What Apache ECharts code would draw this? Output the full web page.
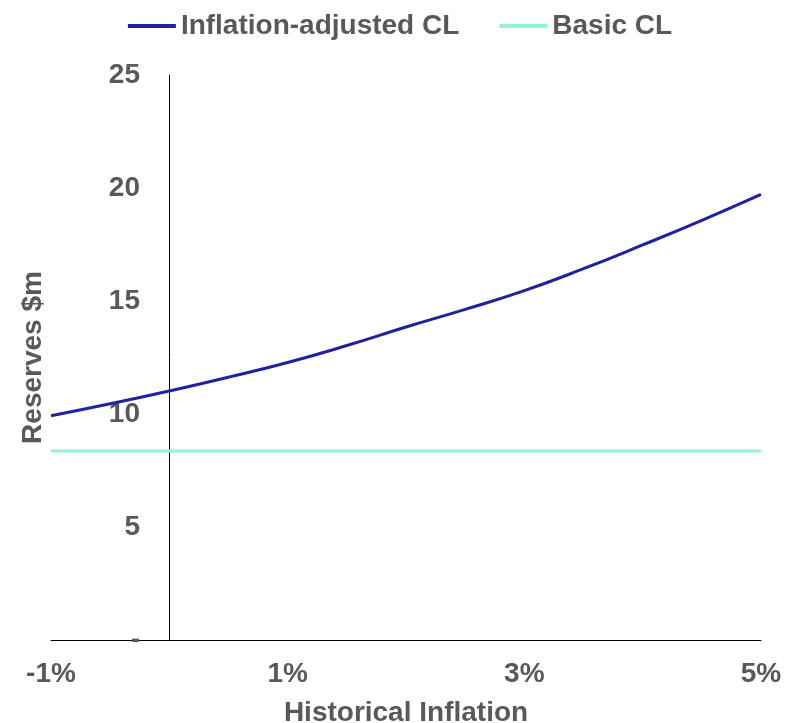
<!DOCTYPE html>
<html>
<head>
<meta charset="utf-8">
<script src="https://cdn.jsdelivr.net/npm/echarts@6/dist/echarts.min.js"></script>
<style>
html,body{margin:0;padding:0;background:#fff;}
#chart{width:800px;height:723px;}
</style>
</head>
<body>
<div id="chart"></div>
<script>
// Data
var inflation = [-1, -0.5, 0, 0.5, 1, 1.5, 2, 2.5, 3, 3.5, 4, 4.5, 5];
var inflationAdjustedCL = [9.92, 10.45, 11.02, 11.63, 12.28, 13.03, 13.85, 14.63, 15.46, 16.43, 17.48, 18.57, 19.72];
var basicCL = [8.36, 8.36, 8.36, 8.36, 8.36, 8.36, 8.36, 8.36, 8.36, 8.36, 8.36, 8.36, 8.36];
var xTickLabels = ['-1%', '1%', '3%', '5%'];
var seriesNames = ['Inflation-adjusted CL', 'Basic CL'];

function pairs(xs, ys) {
  return xs.map(function (x, i) { return [x, ys[i]]; });
}

var FONT = "'Liberation Sans', Arial, sans-serif";
var GREY = '#595959';
var FS = 28;

var chart = echarts.init(document.getElementById('chart'));
chart.setOption({
  animation: false,
  textStyle: { fontFamily: FONT },
  legend: {
    top: 7,
    left: 'center',
    itemWidth: 48,
    itemHeight: 4,
    itemGap: 40,
    icon: 'rect',
    textStyle: { fontFamily: FONT, fontSize: FS, fontWeight: 'bold', color: GREY },
    data: seriesNames
  },
  grid: { left: 51, right: 39, top: 75, bottom: 83, containLabel: false, outerBoundsMode: 'none' },
  xAxis: {
    type: 'value',
    min: -1,
    max: 5,
    interval: 1,
    name: 'Historical Inflation',
    nameLocation: 'middle',
    nameGap: 59,
    nameTextStyle: { fontFamily: FONT, fontSize: FS, fontWeight: 'bold', color: GREY },
    axisLine: { show: true, lineStyle: { color: '#000', width: 1 } },
    axisTick: { show: false },
    splitLine: { show: false },
    axisLabel: {
      fontFamily: FONT, fontSize: FS, fontWeight: 'bold', color: GREY, margin: 20,
      formatter: function (v) {
        var lab = xTickLabels.filter(function (t) { return parseFloat(t) === v; });
        return lab.length ? lab[0] : '';
      }
    }
  },
  yAxis: {
    type: 'value',
    min: 0,
    max: 25,
    interval: 5,
    name: 'Reserves $m',
    nameLocation: 'middle',
    nameGap: 4,
    nameTextStyle: { fontFamily: FONT, fontSize: FS, fontWeight: 'bold', color: GREY },
    axisLine: { show: true, onZero: true, lineStyle: { color: '#000', width: 1 } },
    axisTick: { show: false },
    splitLine: { show: false },
    axisLabel: {
      fontFamily: FONT, fontSize: FS, fontWeight: 'bold', color: GREY, margin: -89,
      formatter: function (v) { return v === 0 ? '-' : String(v); }
    }
  },
  series: [
    {
      name: seriesNames[0],
      type: 'line',
      smooth: true,
      showSymbol: false,
      data: pairs(inflation, inflationAdjustedCL),
      itemStyle: { color: '#2121A0' },
      lineStyle: { color: '#2121A0', width: 3 },
      z: 3
    },
    {
      name: seriesNames[1],
      type: 'line',
      showSymbol: false,
      data: pairs(inflation, basicCL),
      itemStyle: { color: '#8DF5D5' },
      lineStyle: { color: '#8DF5D5', width: 3 },
      z: 2
    }
  ]
});
</script>
</body>
</html>
